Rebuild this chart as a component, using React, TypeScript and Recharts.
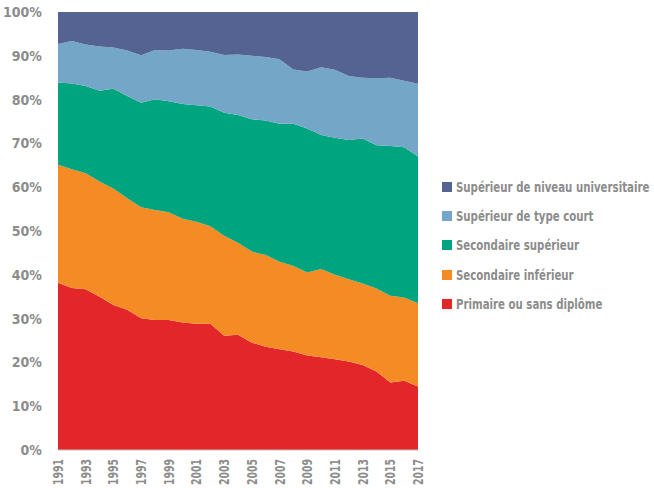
import { AreaChart, Area, XAxis, YAxis, Legend } from 'recharts';

const years = [
  '1991', '1992', '1993', '1994', '1995', '1996', '1997', '1998', '1999', '2000',
  '2001', '2002', '2003', '2004', '2005', '2006', '2007', '2008', '2009', '2010',
  '2011', '2012', '2013', '2014', '2015', '2016', '2017',
];

// parts en % (empilées, total = 100)
const primaire = [38.2, 37.0, 36.7, 35.0, 33.1, 32.0, 30.1, 29.7, 29.7, 29.1, 28.8, 28.8, 26.1, 26.3, 24.5, 23.6, 23.0, 22.5, 21.6, 21.2, 20.7, 20.2, 19.4, 17.9, 15.4, 15.8, 14.5];
const secInf = [26.9, 27.1, 26.5, 26.3, 26.6, 25.5, 25.3, 25.1, 24.6, 23.7, 23.3, 22.3, 22.8, 21.0, 20.8, 20.9, 20.0, 19.5, 18.9, 20.1, 19.3, 18.8, 18.6, 19.0, 19.8, 19.0, 19.0];
const secSup = [18.8, 19.6, 19.9, 20.7, 22.8, 23.3, 23.9, 25.3, 25.3, 26.2, 26.6, 27.3, 28.1, 29.2, 30.2, 30.7, 31.5, 32.5, 32.9, 30.6, 31.3, 31.8, 33.1, 32.7, 34.2, 34.3, 33.5];
const supCourt = [8.8, 9.7, 9.5, 10.1, 9.4, 10.4, 10.8, 11.2, 11.6, 12.6, 12.6, 12.5, 13.2, 13.8, 14.5, 14.5, 14.7, 12.4, 13.0, 15.5, 15.5, 14.6, 13.9, 15.3, 15.6, 15.2, 16.6];
const supUniv = [7.3, 6.6, 7.4, 7.9, 8.1, 8.8, 9.9, 8.7, 8.8, 8.4, 8.7, 9.1, 9.8, 9.7, 10.0, 10.3, 10.8, 13.1, 13.6, 12.6, 13.2, 14.6, 15.0, 15.1, 15.0, 15.7, 16.4];

const yTicks = [0, 0.1, 0.2, 0.3, 0.4, 0.5, 0.6, 0.7, 0.8, 0.9, 1];

const series = [
  { key: 'primaire', name: 'Primaire ou sans diplôme', color: '#e3262a' },
  { key: 'secInf', name: 'Secondaire inférieur', color: '#f48b24' },
  { key: 'secSup', name: 'Secondaire supérieur', color: '#00a47f' },
  { key: 'supCourt', name: 'Supérieur de type court', color: '#74a6c7' },
  { key: 'supUniv', name: 'Supérieur de niveau universitaire', color: '#546391' },
];

const data = years.map((year, i) => ({
  year,
  primaire: primaire[i],
  secInf: secInf[i],
  secSup: secSup[i],
  supCourt: supCourt[i],
  supUniv: supUniv[i],
}));

const FONT = '"DejaVu Sans Condensed", "DejaVu Sans", sans-serif';
const GREY = '#8c8c8c';

// y reçu = ligne d'axe + décalage du tick
const YearTick = ({ x, y, payload }: any) => (
  <g transform={`translate(${x},${y})`}>
    <text
      transform="rotate(-90)"
      x={-1}
      y={5}
      textAnchor="end"
      fill={GREY}
      fontFamily={FONT}
      fontWeight="bold"
      fontSize={13.5}
      textLength={26}
      lengthAdjust="spacingAndGlyphs"
    >
      {payload.value}
    </text>
  </g>
);

const LegendContent = () => (
  <div style={{ fontFamily: FONT, fontWeight: 'bold', fontSize: 14, color: GREY, width: 212 }}>
    {[...series].reverse().map(s => (
      <div key={s.key} style={{ display: 'flex', alignItems: 'center', height: 29.4, whiteSpace: 'nowrap' }}>
        <span style={{ width: 10, height: 10, background: s.color, marginRight: 4, flex: 'none' }} />
        <span style={{ display: 'inline-block', transform: 'scaleX(0.81)', transformOrigin: 'left center' }}>
          {s.name}
        </span>
      </div>
    ))}
  </div>
);

export default function App() {
  return (
    <div>
      <style>{'body{margin:0}'}</style>
      <AreaChart
        width={654}
        height={488}
        data={data}
        stackOffset="expand"
        margin={{ top: 12, right: 24, left: 0, bottom: 0 }}
      >
        <XAxis
          dataKey="year"
          interval={1}
          height={38}
          tick={<YearTick />}
          tickLine={false}
          axisLine={{ stroke: '#bfbfbf' }}
        />
        <YAxis
          width={58}
          domain={[0, 1]}
          ticks={yTicks}
          tickFormatter={v => `${Math.round(v * 100)}%`}
          tick={{ fill: GREY, fontFamily: FONT, fontWeight: 'bold', fontSize: 14 }}
          tickLine={false}
          axisLine={false}
          tickMargin={10}
        />
        <Legend
          layout="vertical"
          align="right"
          verticalAlign="middle"
          content={<LegendContent />}
          wrapperStyle={{ position: 'absolute', left: 442, top: 172, width: 212, height: 147 }}
        />
        {series.map(s => (
          <Area
            key={s.key}
            dataKey={s.key}
            name={s.name}
            stackId="1"
            type="linear"
            stroke="none"
            fill={s.color}
            fillOpacity={1}
            isAnimationActive={false}
          />
        ))}
      </AreaChart>
    </div>
  );
}
